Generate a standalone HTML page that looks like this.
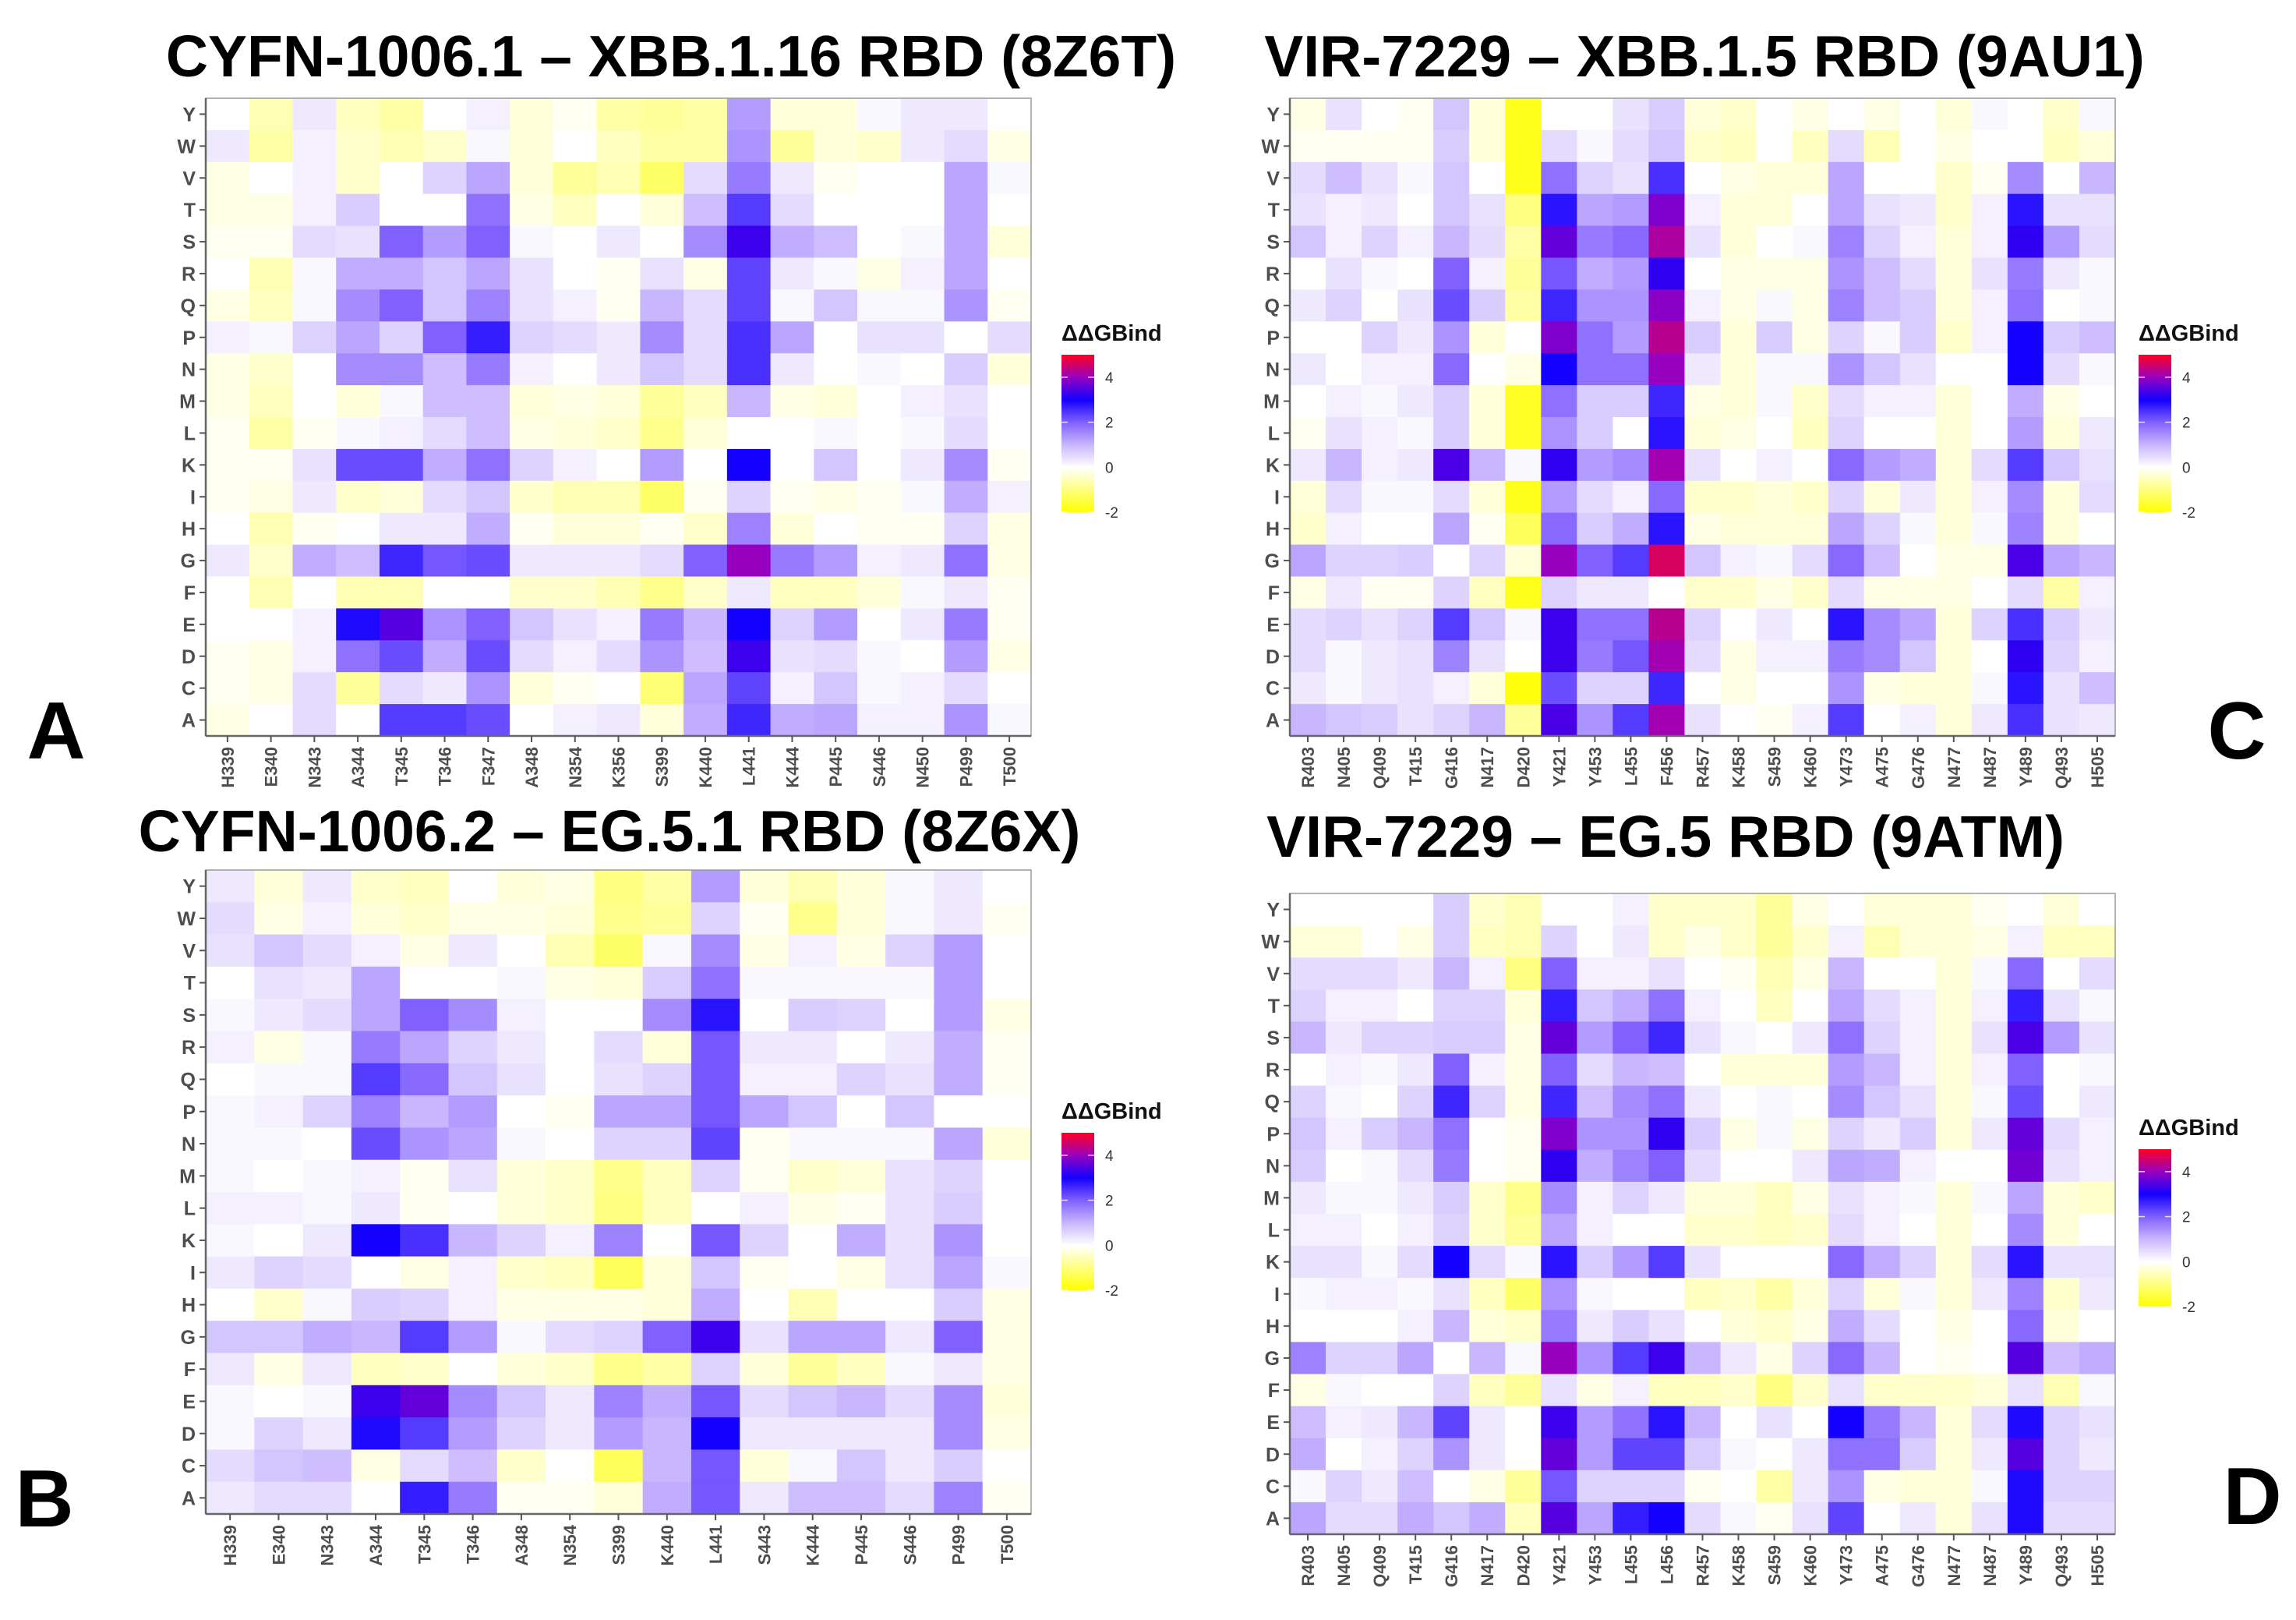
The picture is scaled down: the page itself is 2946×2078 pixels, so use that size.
<!DOCTYPE html>
<html><head><meta charset="utf-8"><style>
html,body{margin:0;padding:0;background:#fff;}
svg{display:block;font-family:"Liberation Sans",Arial,sans-serif;}
</style></head><body>
<svg id="fig" width="2946" height="2078" viewBox="0 0 2946 2078" xmlns="http://www.w3.org/2000/svg">
<defs>
<linearGradient id="cbar" x1="0" y1="1" x2="0" y2="0">
<stop offset="0" stop-color="#ffff00"/><stop offset="0.2857" stop-color="#ffffff"/>
<stop offset="0.4286" stop-color="#c8b6ff"/><stop offset="0.5714" stop-color="#8060ff"/>
<stop offset="0.7143" stop-color="#1400ff"/><stop offset="0.8571" stop-color="#9800c0"/>
<stop offset="1" stop-color="#ff0020"/></linearGradient>
</defs>
</svg>
<script>
const rowLabels=["Y","W","V","T","S","R","Q","P","N","M","L","K","I","H","G","F","E","D","C","A"];
const colsA=["H339","E340","N343","A344","T345","T346","F347","A348","N354","K356","S399","K440","L441","K444","P445","S446","N450","P499","T500"];
const valsA=[
[0,-0.6,0.3,-0.5,-0.7,0,0.2,-0.3,-0.1,-0.7,-0.8,-0.7,1.3,-0.3,-0.3,0.1,0.3,0.3,0],
[0.3,-0.7,0.2,-0.4,-0.6,-0.4,0.1,-0.3,0,-0.5,-0.7,-0.7,1.4,-0.8,-0.3,-0.4,0.3,0.5,-0.2],
[-0.2,0,0.2,-0.4,0,0.6,1.2,-0.3,-0.8,-0.6,-1.2,0.5,1.7,0.3,-0.1,0,0,1.2,0.1],
[-0.2,-0.2,0.2,0.7,0,0,1.8,-0.2,-0.5,0,-0.3,0.9,2.4,0.5,0,0,0,1.2,0],
[-0.1,-0.1,0.5,0.4,2.0,1.3,2.0,0.1,0,0.3,0,1.5,3.3,1.1,0.9,0,0.1,1.2,-0.3],
[0,-0.6,0.1,1.1,1.1,0.8,1.2,0.4,0,-0.1,0.4,-0.2,2.3,0.3,0.1,-0.2,0.2,1.2,0],
[-0.2,-0.5,0.1,1.5,2.0,0.8,1.6,0.4,0.2,-0.1,1.0,0.5,2.3,0.1,0.8,0.1,0.1,1.4,-0.1],
[0.2,0.1,0.6,1.2,0.6,2.0,2.7,0.6,0.5,0.3,1.5,0.5,2.5,1.2,0,0.4,0.4,0,0.5],
[-0.2,-0.4,0,1.5,1.5,0.9,1.7,0.2,0,0.3,0.8,0.5,2.5,0.3,0,0.1,0,0.7,-0.3],
[-0.2,-0.5,0,-0.3,0.1,0.9,0.9,-0.3,-0.2,-0.3,-0.8,-0.5,1.0,-0.2,-0.3,0,0.2,0.4,0],
[-0.1,-0.7,-0.1,0.1,0.2,0.5,0.9,-0.2,-0.3,-0.4,-0.9,-0.3,0,0,0.1,0,0.1,0.5,0],
[-0.1,-0.1,0.4,2.2,2.2,1.1,1.8,0.6,0.2,0,1.3,0,3.0,0,0.8,0,0.3,1.5,-0.1],
[-0.1,-0.2,0.3,-0.4,-0.3,0.5,0.8,-0.4,-0.6,-0.6,-1.2,-0.1,0.6,-0.1,-0.2,-0.1,0.1,1.1,0.2],
[0,-0.6,-0.1,0,0.3,0.3,1.1,-0.1,-0.3,-0.3,-0.1,-0.4,1.6,-0.3,0,-0.1,-0.1,0.6,-0.2],
[0.3,-0.4,1.1,0.9,2.6,2.1,2.2,0.3,0.3,0.3,0.5,2.0,4.0,1.7,1.3,0.2,0.3,1.8,-0.2],
[0,-0.6,0,-0.6,-0.6,0,0,-0.4,-0.4,-0.6,-0.9,-0.4,0.3,-0.5,-0.5,-0.3,0.1,0.3,-0.1],
[0,0,0.2,2.9,3.5,1.4,2.0,0.8,0.4,0.2,1.7,1.0,3.0,0.6,1.3,0,0.3,1.7,-0.1],
[-0.1,-0.2,0.2,1.8,2.2,1.1,2.2,0.5,0.2,0.5,1.4,0.9,3.3,0.4,0.5,0.1,0,1.3,-0.2],
[-0.1,-0.2,0.5,-0.8,0.5,0.3,1.4,-0.3,-0.1,0,-1.1,1.2,2.3,0.2,0.8,0.1,0.2,0.5,0],
[-0.2,0,0.5,0,2.4,2.4,2.2,0,0.2,0.3,-0.3,1.1,2.6,1.1,1.2,0.2,0.2,1.4,0.1]];
const colsB=["H339","E340","N343","A344","T345","T346","A348","N354","S399","K440","L441","S443","K444","P445","S446","P499","T500"];
const valsB=[
[0.3,-0.3,0.3,-0.4,-0.5,0,-0.3,-0.2,-1.0,-0.7,1.3,-0.3,-0.6,-0.3,0.1,0.3,0],
[0.5,-0.2,0.2,-0.3,-0.4,-0.2,-0.2,-0.3,-0.9,-0.8,0.6,-0.1,-0.9,-0.3,0.1,0.3,-0.1],
[0.4,0.8,0.5,0.2,-0.2,0.3,0,-0.6,-1.2,0.1,1.5,-0.2,0.2,-0.2,0.6,1.3,0],
[0,0.4,0.3,1.2,0,0,0.1,-0.2,-0.3,0.7,1.8,0.1,0.1,0.1,0.1,1.3,0],
[0.1,0.3,0.5,1.2,2.0,1.5,0.2,0,0,1.5,2.8,0,0.7,0.6,0,1.3,-0.2],
[0.2,-0.2,0.1,1.7,1.2,0.6,0.3,0,0.5,-0.3,2.1,0.3,0.3,0,0.3,1.1,-0.1],
[0,0.1,0.1,2.4,1.9,0.8,0.4,0,0.4,0.6,2.1,0.2,0.2,0.6,0.4,1.1,-0.1],
[0.1,0.2,0.6,1.6,1.0,1.3,0,-0.1,1.2,1.2,2.1,1.2,0.8,0,0.8,0,0],
[0.1,0.1,0,2.2,1.4,1.2,0.1,0,0.6,0.6,2.3,-0.1,0.1,0.1,0.1,1.2,-0.3],
[0.1,0,0.1,0.2,-0.1,0.4,-0.3,-0.4,-0.9,-0.5,0.6,-0.1,-0.4,-0.3,0.4,0.6,0],
[0.2,0.2,0.1,0.3,-0.1,0,-0.3,-0.4,-1.0,-0.5,0,0.2,-0.2,-0.1,0.4,0.7,0],
[0.1,0,0.3,3.0,2.5,1.0,0.6,0.2,1.6,0,2.1,0.6,0,1.1,0.4,1.4,0],
[0.3,0.6,0.5,0,-0.2,0.2,-0.4,-0.5,-1.3,-0.3,0.8,-0.1,0,-0.2,0.4,1.2,0.1],
[0,-0.4,0.1,0.7,0.6,0.2,-0.2,-0.2,-0.2,-0.3,1.1,0,-0.6,0,0,0.7,-0.2],
[0.8,0.8,1.1,1.0,2.4,1.3,0.1,0.5,0.6,2.0,3.3,0.4,1.2,1.2,0.3,2.0,-0.2],
[0.3,-0.2,0.3,-0.5,-0.4,0,-0.3,-0.4,-0.9,-0.7,0.6,-0.3,-0.8,-0.5,0.1,0.3,-0.2],
[0.1,0,0.1,3.3,3.6,1.5,0.8,0.3,1.6,1.1,2.1,0.5,0.8,1.0,0.5,1.5,-0.3],
[0.1,0.6,0.3,2.9,2.4,1.3,0.6,0.3,1.3,1.0,3.0,0.3,0.3,0.3,0.3,1.5,-0.2],
[0.5,0.8,0.9,-0.2,0.5,0.9,-0.4,0,-1.3,1.0,2.1,-0.3,0.1,0.8,0.3,0.7,0],
[0.3,0.5,0.5,0,2.7,1.7,-0.1,-0.1,-0.3,1.1,2.1,0.3,0.9,0.9,0.5,1.6,-0.1]];
const colsC=["R403","N405","Q409","T415","G416","N417","D420","Y421","Y453","L455","F456","R457","K458","S459","K460","Y473","A475","G476","N477","N487","Y489","Q493","H505"];
const valsC=[
[-0.2,0.4,0,-0.1,0.8,-0.3,-1.8,0,0,0.4,0.7,-0.3,-0.4,0,-0.2,0,-0.2,0,-0.3,0.1,0,-0.4,0.1],
[-0.1,-0.1,-0.1,-0.1,0.7,-0.3,-1.8,0.5,0.1,0.5,0.8,-0.4,-0.5,0,-0.5,0.5,-0.6,0,-0.2,0,0,-0.5,-0.3],
[0.5,0.9,0.4,0.1,0.8,0,-1.8,1.8,0.6,0.4,2.5,0,-0.2,-0.3,-0.3,1.2,0,0,-0.4,-0.1,1.5,0,1.0],
[0.4,0.2,0.3,0,0.8,0.4,-1.0,2.8,1.2,1.3,3.8,0.2,-0.3,-0.3,0,1.2,0.4,0.3,-0.4,0.2,2.8,0.4,0.4],
[0.8,0.2,0.6,0.2,1.0,0.5,-0.7,3.6,1.7,1.9,4.2,0.4,-0.3,0,0.1,1.6,0.6,0.2,-0.3,0.2,3.2,1.3,0.5],
[0,0.4,0.1,0,2.0,0.2,-0.8,2.1,1.1,1.3,3.2,0,-0.2,-0.2,-0.2,1.4,0.9,0.5,-0.3,0.4,1.7,0.3,0.1],
[0.3,0.6,0,0.4,2.2,0.7,-0.7,2.6,1.4,1.4,3.9,0.2,-0.2,0.1,-0.2,1.6,0.9,0.7,-0.3,0.2,1.8,0,0.1],
[0,0,0.6,0.3,1.4,-0.3,0,3.8,1.8,1.3,4.3,0.7,-0.3,0.7,-0.2,0.6,0.1,0.7,-0.4,0.2,3.0,0.7,0.9],
[0.3,0,0.2,0.2,1.9,0,-0.2,3.0,1.8,1.8,4.0,0.3,-0.3,0.1,0.1,1.4,0.8,0.4,0,0,3.0,0.5,0.1],
[0,0.2,0.1,0.3,0.7,-0.3,-1.7,1.8,0.7,0.7,2.6,-0.2,-0.3,0.1,-0.4,0.5,0.2,0.2,-0.3,0,1.1,-0.2,0],
[-0.1,0.4,0.2,0.1,0.7,-0.3,-1.7,1.4,0.7,0,2.8,-0.3,-0.2,0,-0.5,0.6,0,0,-0.3,0,1.3,-0.3,0.3],
[0.3,1.0,0.2,0.3,3.4,1.0,0.1,3.2,1.3,1.5,4.1,0.4,0,0.2,0,1.9,1.3,1.1,-0.3,0.5,2.4,0.8,0.4],
[-0.3,0.5,0.1,0.1,0.5,-0.3,-1.8,1.3,0.5,0.2,1.9,-0.4,-0.4,-0.3,-0.4,0.6,-0.3,0.3,-0.3,0.2,1.5,-0.3,0.5],
[-0.4,0.2,0,0,1.2,-0.1,-1.3,1.9,0.7,1.1,2.8,-0.2,-0.3,-0.3,-0.3,1.2,0.6,0.1,-0.3,0.1,1.6,-0.3,0],
[1.2,0.6,0.6,0.7,0,0.6,-0.3,4.0,2.0,2.4,4.6,0.8,0.2,0.1,0.5,1.9,0.9,0,-0.2,-0.2,3.4,1.2,1.0],
[-0.2,0.3,-0.1,-0.1,0.6,-0.5,-1.8,0.6,0.3,0.3,0,-0.4,-0.4,-0.2,-0.4,0.5,-0.2,-0.2,-0.2,0,0.5,-0.7,0.2],
[0.5,0.6,0.4,0.6,2.4,0.8,0.1,3.3,1.8,1.8,4.3,0.6,0,0.3,0,2.8,1.5,1.2,-0.3,0.6,2.5,0.7,0.3],
[0.5,0.1,0.3,0.4,1.6,0.4,0,3.3,1.7,2.1,4.1,0.5,-0.2,0.2,0.2,1.7,1.5,0.8,-0.3,0,3.2,0.6,0.2],
[0.3,0.1,0.3,0.4,0.2,-0.3,-1.9,2.2,0.6,0.6,2.6,0,-0.2,0,0,1.4,-0.2,-0.3,-0.3,0.1,2.8,0.4,0.9],
[1.0,0.8,0.7,0.4,0.6,1.0,-0.8,3.4,1.4,2.4,4.1,0.4,0,-0.1,0.2,2.4,0,0.2,-0.3,0.3,2.5,0.4,0.3]];
const colsD=["R403","N405","Q409","T415","G416","N417","D420","Y421","Y453","L455","L456","R457","K458","S459","K460","Y473","A475","G476","N477","N487","Y489","Q493","H505"];
const valsD=[
[0,0,0,0,0.7,-0.4,-0.6,0,0,0.2,-0.4,-0.4,-0.4,-0.8,-0.2,0,-0.3,-0.3,-0.3,-0.1,0,-0.3,0],
[-0.3,-0.3,0,-0.2,0.7,-0.5,-0.6,0.6,0,0.3,-0.4,-0.2,-0.4,-0.8,-0.4,0.2,-0.6,-0.3,-0.3,-0.2,0.2,-0.5,-0.5],
[0.5,0.5,0.5,0.3,1.0,0.2,-1.0,2.0,0.2,0.2,0.4,0,-0.1,-0.6,-0.2,1.0,0,0,-0.3,0.1,1.9,0,0.5],
[0.6,0.2,0.2,0,0.6,0.6,-0.3,2.7,0.8,1.1,1.8,0.2,0,-0.5,0,1.2,0.5,0.2,-0.3,0.2,2.7,0.4,0.1],
[1.0,0.3,0.6,0.6,0.7,0.7,-0.2,3.6,1.3,2.0,2.6,0.4,0.1,0,0.3,1.8,0.6,0.2,-0.3,0.4,3.4,1.3,0.4],
[0,0.2,0.1,0.3,2.0,0.2,-0.2,2.0,0.5,1.0,0.9,0,-0.3,-0.3,-0.3,1.3,1.0,0.2,-0.3,0.2,2.0,0,0.1],
[0.6,0.1,0,0.6,2.6,0.6,-0.2,2.6,0.9,1.5,1.8,0.3,0,0.1,0,1.5,0.8,0.4,-0.3,0.1,2.2,0,0.3],
[0.8,0.2,0.7,1.0,1.8,0,-0.1,3.8,1.4,1.4,3.2,0.7,-0.2,0.1,-0.2,0.6,0.3,0.7,-0.3,0.3,3.6,0.5,0.2],
[0.7,0,0.1,0.5,1.7,0,-0.1,3.2,1.1,1.6,2.0,0.5,0,0,0.3,1.2,1.1,0.2,0,0,3.7,0.4,0.2],
[0.3,0.1,0.1,0.3,0.7,-0.4,-0.9,1.5,0.2,0.6,0.3,-0.3,-0.3,-0.5,-0.2,0.4,0.2,0.1,-0.3,0.1,1.2,-0.3,-0.4],
[0.2,0.2,0,0.2,0.6,-0.4,-0.8,1.2,0.2,0,0,-0.4,-0.4,-0.5,-0.4,0.5,0.2,0,-0.3,0,1.5,-0.3,0],
[0.4,0.4,0.1,0.5,3.0,0.5,0.1,2.8,0.7,1.3,2.4,0.4,0,0,0,1.9,1.1,0.6,-0.3,0.5,2.8,0.4,0.4],
[0.1,0.2,0.2,0.1,0.4,-0.5,-1.2,1.4,0.1,0,0,-0.5,-0.4,-0.7,-0.3,0.6,-0.3,0.1,-0.3,0.3,1.6,-0.4,0.3],
[0,0,0,0.2,1.0,-0.3,-0.4,1.7,0.3,0.7,0.4,0,-0.3,-0.4,-0.2,1.1,0.5,0,-0.2,0,1.9,-0.3,0],
[1.6,0.6,0.6,1.2,0,1.0,0.1,4.0,1.4,2.4,3.3,1.0,0.3,-0.2,0.6,1.9,1.0,0,-0.1,0,3.5,0.9,1.1],
[-0.2,0.1,0,0,0.6,-0.5,-0.8,0.4,-0.2,0.2,-0.5,-0.5,-0.4,-1.0,-0.4,0.4,-0.4,-0.4,-0.4,-0.3,0.4,-0.6,0.1],
[0.9,0.2,0.3,1.0,2.3,0.3,0,3.3,1.3,1.8,2.8,1.0,0,0.4,0,3.0,1.7,1.0,-0.3,0.5,2.9,0.6,0.4],
[1.1,0,0.2,0.6,1.4,0.3,0,3.6,1.3,2.3,2.3,0.7,0.1,0,0.3,1.8,1.8,0.7,-0.3,0.3,3.5,0.6,0.3],
[0.1,0.6,0.3,0.9,0,-0.2,-0.8,2.1,0.6,0.6,0.6,-0.1,0,-0.7,0.3,1.4,-0.2,-0.3,-0.3,0.1,2.9,0.6,0.6],
[1.2,0.5,0.5,1.1,0.8,1.1,-0.5,3.5,1.2,2.7,3.0,0.5,0.1,-0.1,0.4,2.3,0,0.3,-0.3,0.4,2.9,0.5,0.5]];
const legendTicks=[4,2,0,-2];

const NS="http://www.w3.org/2000/svg";
const svg=document.getElementById('fig');
const stops=[[-2,[255,255,0]],[0,[255,255,255]],[1,[200,182,255]],[2,[128,96,255]],[3,[20,0,255]],[4,[152,0,192]],[5,[255,0,32]]];
function colorOf(v){
  if(v<=stops[0][0])return 'rgb(255,255,0)';
  for(let i=1;i<stops.length;i++){
    if(v<=stops[i][0]){const a=stops[i-1],b=stops[i];const t=(v-a[0])/(b[0]-a[0]);
      const c=a[1].map((x,k)=>Math.round(x+(b[1][k]-x)*t));return 'rgb('+c.join(',')+')';}
  }
  return 'rgb(255,0,32)';
}
function mk(tag,attrs,parent){const e=document.createElementNS(NS,tag);for(const k in attrs)e.setAttribute(k,attrs[k]);(parent||svg).appendChild(e);return e;}

function panel(id,cols,vals,box,title,titleX,titleY,letter,lx,ly,leg){
  const g=mk('g',{});
  
  
  const cw=(box.r-box.l)/cols.length, rh=(box.b-box.t)/rowLabels.length;
  const xS=i=>box.l+i*cw, yS=j=>box.t+j*rh;
  for(let j=0;j<rowLabels.length;j++)for(let i=0;i<cols.length;i++){
    const r=mk('rect',{x:xS(i).toFixed(2),y:yS(j).toFixed(2),width:(cw+0.6).toFixed(2),height:(rh+0.6).toFixed(2),fill:colorOf(vals[j][i])},g);
    
    
  }
  const fr=mk('rect',{x:box.l,y:box.t,width:box.r-box.l,height:box.b-box.t,fill:'none',stroke:'#9a9a9a','stroke-width':1.5},g);
  
  
  mk('line',{x1:box.l,y1:box.t,x2:box.l,y2:box.b,stroke:'#666','stroke-width':2.5},g);
  mk('line',{x1:box.l,y1:box.b,x2:box.r,y2:box.b,stroke:'#666','stroke-width':2.5},g);
  rowLabels.forEach((lab,j)=>{
    const y=yS(j)+rh/2;
    mk('line',{x1:box.l-8,y1:y,x2:box.l,y2:y,stroke:'#555','stroke-width':2},g);
    const t=mk('text',{x:box.l-13,y:y+9,'text-anchor':'end','font-size':25,'font-weight':'bold',fill:'#4d4d4d'},g);
    t.textContent=lab;
    
    
  });
  cols.forEach((lab,i)=>{
    const x=xS(i)+cw/2;
    mk('line',{x1:x,y1:box.b,x2:x,y2:box.b+8,stroke:'#555','stroke-width':2},g);
    const t=mk('text',{x:0,y:0,'text-anchor':'end','font-size':22,'font-weight':'bold',fill:'#4d4d4d',transform:'translate('+(x+8)+','+(box.b+14)+') rotate(-90)'},g);
    t.textContent=lab;
    
    
  });
  const tt=mk('text',{x:titleX,y:titleY,'text-anchor':'middle','font-size':75,'font-weight':'bold',fill:'#000'},g);
  tt.textContent=title;
  
  
  const lt=mk('text',{x:lx,y:ly,'text-anchor':'middle','font-size':104,'font-weight':'bold',fill:'#000'},g);
  lt.textContent=letter;
  
  
  const lg=mk('g',{},g);
  
  
  const ltl=mk('text',{x:leg.x,y:leg.top-18,'font-size':29,'font-weight':'bold',fill:'#111'},lg);
  ltl.textContent='ΔΔGBind';
  
  
  const bh=leg.bot-leg.top;
  mk('rect',{x:leg.x,y:leg.top,width:42,height:bh,fill:'url(#cbar)'},lg);
  const vy=v=>leg.bot-(v+2)/7*bh;
  legendTicks.forEach(v=>{
    mk('line',{x1:leg.x,y1:vy(v),x2:leg.x+8,y2:vy(v),stroke:'#fff','stroke-width':1.5,opacity:0.8},lg);
    mk('line',{x1:leg.x+34,y1:vy(v),x2:leg.x+42,y2:vy(v),stroke:'#fff','stroke-width':1.5,opacity:0.8},lg);
    const t=mk('text',{x:leg.x+56,y:vy(v)+7,'font-size':19,fill:'#333'},lg);
    t.textContent=String(v);
    
    
  });
}
panel('a',colsA,valsA,{l:264,t:126,r:1323,b:944},'CYFN-1006.1 – XBB.1.16 RBD (8Z6T)',861,98,'A',72,973,{x:1362,top:455,bot:657});
panel('c',colsC,valsC,{l:1655,t:126,r:2714,b:944},'VIR-7229 – XBB.1.5 RBD (9AU1)',2187,98,'C',2870,973,{x:2744,top:455,bot:657});
panel('b',colsB,valsB,{l:264,t:1116,r:1323,b:1942},'CYFN-1006.2 – EG.5.1 RBD (8Z6X)',782,1092,'B',57,1958,{x:1362,top:1453,bot:1655});
panel('d',colsD,valsD,{l:1655,t:1146,r:2714,b:1968},'VIR-7229 – EG.5 RBD (9ATM)',2137,1099,'D',2890,1955,{x:2744,top:1474,bot:1676});
</script>
</body></html>
